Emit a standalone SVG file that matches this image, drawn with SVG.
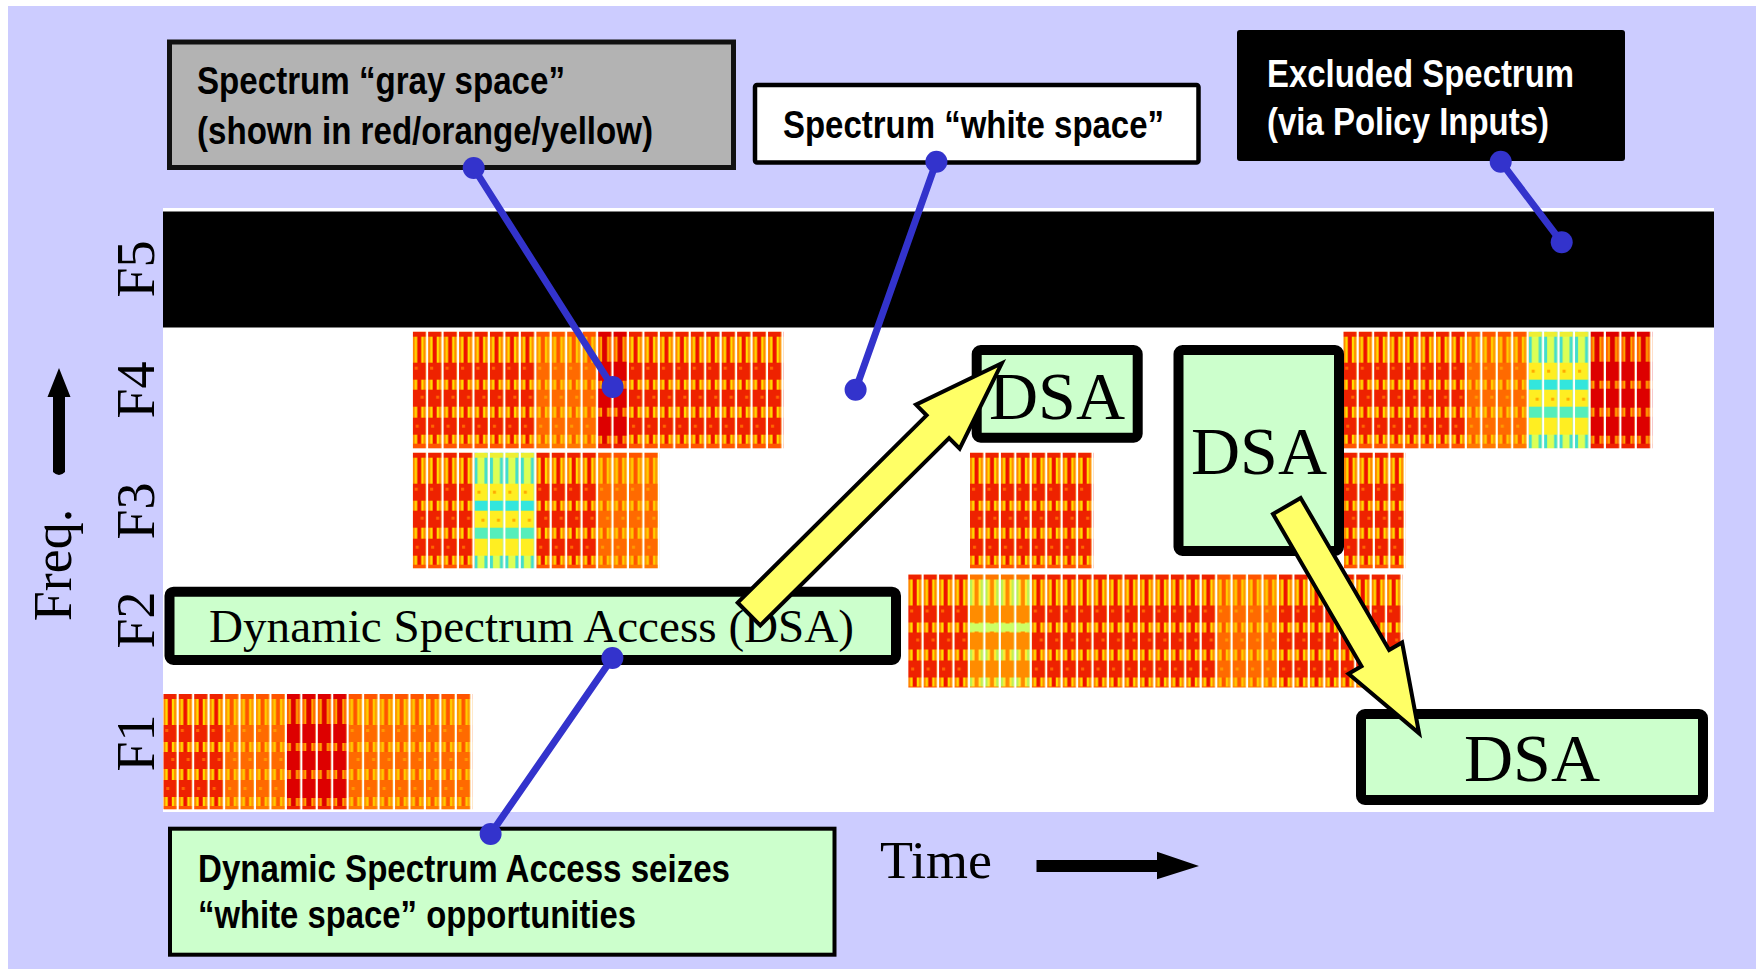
<svg xmlns="http://www.w3.org/2000/svg" width="1756" height="969" viewBox="0 0 1756 969">
<style>
.lbl{font-family:"Liberation Sans Narrow","Liberation Sans",Arial,sans-serif;font-weight:bold;font-size:39px}
.ser{font-family:"Liberation Serif","Times New Roman",serif;fill:#000}
.ax{font-size:54px}
.dsat{font-size:68px;text-anchor:middle}
.lead{stroke:#3333cc;stroke-width:7;stroke-linecap:round;fill:none}
.dot{fill:#3333cc}
.dsa{fill:#ccffcc;stroke:#000;stroke-width:10}
.yarr{fill:#ffff66;stroke:#000;stroke-width:4;stroke-linejoin:miter}
</style>
<defs>
<pattern id="hot" patternUnits="userSpaceOnUse" width="15.45" height="117">
<rect width="13" height="117" fill="#ffdd00"/>
<rect width="2.2" height="117" fill="#ff8800"/>
<rect x="10.8" width="2.2" height="117" fill="#ff8800"/>
<rect x="4.5" width="4" height="117" fill="#ee1100"/>
<rect width="13" height="5" fill="#ee2200"/>
<rect y="31" width="13" height="17" fill="#ee2200"/>
<rect y="58" width="13" height="17" fill="#ee2200"/>
<rect y="86" width="13" height="17" fill="#ee2200"/>
<rect x="2" y="35" width="3" height="3" fill="#ff6600"/>
<rect x="8" y="64" width="3" height="3" fill="#ff6600"/>
<rect x="3" y="93" width="3" height="3" fill="#ff6600"/>
<rect y="112" width="13" height="5" fill="#ff5500"/>
</pattern>
<pattern id="warm" patternUnits="userSpaceOnUse" width="15.45" height="117">
<rect width="13" height="117" fill="#ffcc00"/>
<rect width="2.2" height="117" fill="#ff9900"/>
<rect x="10.8" width="2.2" height="117" fill="#ff9900"/>
<rect x="4.5" width="4" height="117" fill="#ff5500"/>
<rect width="13" height="5" fill="#ff5500"/>
<rect y="31" width="13" height="17" fill="#ff6a00"/>
<rect y="58" width="13" height="17" fill="#ff6a00"/>
<rect y="86" width="13" height="17" fill="#ff6a00"/>
<rect x="2" y="35" width="3" height="3" fill="#ff9900"/>
<rect x="8" y="64" width="3" height="3" fill="#ff9900"/>
<rect x="3" y="93" width="3" height="3" fill="#ff9900"/>
<rect y="112" width="13" height="5" fill="#ff7700"/>
</pattern>
<pattern id="mild" patternUnits="userSpaceOnUse" width="15.45" height="117">
<rect width="13" height="117" fill="#ffee33"/>
<rect width="2.2" height="117" fill="#bbee55"/>
<rect x="10.8" width="2.2" height="117" fill="#bbee55"/>
<rect x="4.5" width="4" height="117" fill="#ff8800"/>
<rect width="13" height="5" fill="#ff7700"/>
<rect y="31" width="13" height="17" fill="#ff8c00"/>
<rect y="58" width="13" height="17" fill="#ff8c00"/>
<rect y="86" width="13" height="17" fill="#ff8c00"/>
<rect y="49" width="13" height="8" fill="#ccff66"/>
<rect y="112" width="13" height="5" fill="#ff8800"/>
</pattern>
<pattern id="dark" patternUnits="userSpaceOnUse" width="15.45" height="117">
<rect width="13" height="117" fill="#ffaa00"/>
<rect width="2.2" height="117" fill="#ff6600"/>
<rect x="10.8" width="2.2" height="117" fill="#ff6600"/>
<rect x="4" width="5" height="117" fill="#dd0000"/>
<rect width="13" height="5" fill="#dd0000"/>
<rect y="30" width="13" height="19" fill="#dd0000"/>
<rect y="57" width="13" height="19" fill="#dd0000"/>
<rect y="85" width="13" height="19" fill="#dd0000"/>
<rect y="112" width="13" height="5" fill="#ee2200"/>
</pattern>
<pattern id="cool" patternUnits="userSpaceOnUse" width="15.45" height="117">
<rect width="13" height="117" fill="#ddff55"/>
<rect width="3" height="117" fill="#44ddcc"/>
<rect x="10" width="3" height="117" fill="#44ddcc"/>
<rect width="13" height="5" fill="#eeee33"/>
<rect y="31" width="13" height="17" fill="#ffee22"/>
<rect y="58" width="13" height="17" fill="#ffee22"/>
<rect y="86" width="13" height="17" fill="#ffee22"/>
<rect y="48" width="13" height="10" fill="#33e6dd"/>
<rect y="75" width="13" height="11" fill="#55eebb"/>
<rect x="3" y="38" width="3" height="3" fill="#ffaa00"/>
<rect x="7" y="66" width="3" height="3" fill="#ffaa00"/>
</pattern>
</defs>

<rect width="1756" height="969" fill="#ffffff"/>
<rect x="8" y="6" width="1748" height="963" fill="#ccccff"/>

<g id="plot">
<rect x="163" y="208" width="1551" height="604" fill="#ffffff"/>
<rect x="163" y="211.5" width="1551" height="116" fill="#000000"/>
</g>

<g id="occupancy">
<g transform="translate(412.7,331.7)">
<rect width="123.6" height="116.6" fill="url(#hot)"/>
<rect x="123.6" width="61.8" height="116.6" fill="url(#warm)"/>
<rect x="185.4" width="30.9" height="116.6" fill="url(#dark)"/>
<rect x="216.3" width="154.5" height="116.6" fill="url(#hot)"/>
</g>
<g transform="translate(1343.3,331.7)">
<rect width="123.6" height="116.6" fill="url(#hot)"/>
<rect x="123.6" width="61.8" height="116.6" fill="url(#warm)"/>
<rect x="185.4" width="61.8" height="116.6" fill="url(#cool)"/>
<rect x="247.2" width="61.8" height="116.6" fill="url(#dark)"/>
</g>
<g transform="translate(412.7,452.7)">
<rect width="61.8" height="115.6" fill="url(#hot)"/>
<rect x="61.8" width="61.8" height="115.6" fill="url(#cool)"/>
<rect x="123.6" width="61.8" height="115.6" fill="url(#hot)"/>
<rect x="185.4" width="61.8" height="115.6" fill="url(#warm)"/>
</g>
<g transform="translate(970,452.7)">
<rect width="123.6" height="115.6" fill="url(#hot)"/>
</g>
<g transform="translate(1344,452.7)">
<rect width="61.8" height="115.6" fill="url(#hot)"/>
</g>
<g transform="translate(908.2,574.5)">
<rect width="61.8" height="113" fill="url(#hot)"/>
<rect x="61.8" width="61.8" height="113" fill="url(#mild)"/>
<rect x="123.6" width="185.4" height="113" fill="url(#hot)"/>
<rect x="309" width="61.8" height="113" fill="url(#warm)"/>
<rect x="370.8" width="123.6" height="113" fill="url(#hot)"/>
</g>
<g transform="translate(163.3,694)">
<rect width="61.8" height="115.3" fill="url(#hot)"/>
<rect x="61.8" width="61.8" height="115.3" fill="url(#warm)"/>
<rect x="123.6" width="61.8" height="115.3" fill="url(#dark)"/>
<rect x="185.4" width="123.6" height="115.3" fill="url(#warm)"/>
</g>
</g>

<g id="axes">
<text class="ser ax" transform="translate(154,269) rotate(-90)" text-anchor="middle">F5</text>
<text class="ser ax" transform="translate(154,390) rotate(-90)" text-anchor="middle">F4</text>
<text class="ser ax" transform="translate(154,511) rotate(-90)" text-anchor="middle">F3</text>
<text class="ser ax" transform="translate(154,620) rotate(-90)" text-anchor="middle">F2</text>
<text class="ser ax" transform="translate(154,743) rotate(-90)" text-anchor="middle">F1</text>
<text class="ser ax" transform="translate(70.7,565) rotate(-90)" text-anchor="middle">Freq.</text>
<path d="M53,472 L53,397 L47.5,397 L59,368 L70.5,397 L65,397 L65,472 Q59,478 53,472 Z" fill="#000"/>
<text class="ser" x="880" y="878" font-size="52" textLength="112" lengthAdjust="spacingAndGlyphs">Time</text>
<path d="M1036.5,860 L1157,860 L1157,851.7 L1199,866 L1157,879.3 L1157,872 L1036.5,872 Z" fill="#000"/>
</g>

<g id="dsa-label">
<rect x="169.5" y="591.7" width="726.5" height="68.3" rx="4" class="dsa"/>
<text class="ser" x="209" y="642" font-size="47" textLength="645" lengthAdjust="spacingAndGlyphs">Dynamic Spectrum Access (DSA)</text>
</g>
<g id="dsa1">
<rect x="976.7" y="350" width="161" height="87.7" rx="4" class="dsa"/>
<text class="ser dsat" x="1057" y="419">DSA</text>
</g>
<g id="dsa2">
<rect x="1178.5" y="350" width="160.5" height="201" rx="4" class="dsa"/>
<text class="ser dsat" x="1259" y="474">DSA</text>
</g>
<g id="dsa3">
<rect x="1361" y="714" width="342" height="86" rx="4" class="dsa"/>
<text class="ser dsat" x="1532" y="781">DSA</text>
</g>

<g id="transitions">
<polygon class="yarr" transform="translate(749,614) rotate(-44.77)" points="0,-16 266,-16 266,-31 356,0 266,31 266,16 0,16"/>
<polygon class="yarr" transform="translate(1286.8,506) rotate(59.8)" points="0,-16 176,-16 176,-31 263,0 176,31 176,16 0,16"/>
</g>

<g id="gray-callout">
<rect x="169.5" y="42" width="564" height="125.5" fill="#b3b3b3" stroke="#111" stroke-width="5"/>
<text class="lbl" x="197" y="94" textLength="368" lengthAdjust="spacingAndGlyphs">Spectrum “gray space”</text>
<text class="lbl" x="197" y="144" textLength="456" lengthAdjust="spacingAndGlyphs">(shown in red/orange/yellow)</text>
</g>
<g id="white-callout">
<rect x="755" y="85" width="443.5" height="77.5" rx="2" fill="#ffffff" stroke="#000" stroke-width="4.5"/>
<text class="lbl" x="783" y="138" textLength="381" lengthAdjust="spacingAndGlyphs">Spectrum “white space”</text>
</g>
<g id="excluded-callout">
<rect x="1237" y="30" width="388" height="131" rx="3" fill="#000000"/>
<text class="lbl" x="1267" y="87" fill="#ffffff" textLength="307" lengthAdjust="spacingAndGlyphs">Excluded Spectrum</text>
<text class="lbl" x="1267" y="135" fill="#ffffff" textLength="282" lengthAdjust="spacingAndGlyphs">(via Policy Inputs)</text>
</g>
<g id="dsa-callout">
<rect x="170" y="828.7" width="664.5" height="126" fill="#ccffcc" stroke="#000" stroke-width="4"/>
<text class="lbl" x="198" y="882" textLength="532" lengthAdjust="spacingAndGlyphs">Dynamic Spectrum Access seizes</text>
<text class="lbl" x="198" y="928" textLength="438" lengthAdjust="spacingAndGlyphs">“white space” opportunities</text>
</g>

<g id="connectors">
<line class="lead" x1="473.7" y1="168" x2="612.6" y2="387"/>
<circle class="dot" cx="473.7" cy="168" r="11"/>
<circle class="dot" cx="612.6" cy="387" r="11"/>
<line class="lead" x1="936.4" y1="161.7" x2="855.6" y2="389.7"/>
<circle class="dot" cx="936.4" cy="161.7" r="11"/>
<circle class="dot" cx="855.6" cy="389.7" r="11"/>
<line class="lead" x1="1500.7" y1="161.7" x2="1561.7" y2="242.3"/>
<circle class="dot" cx="1500.7" cy="161.7" r="11"/>
<circle class="dot" cx="1561.7" cy="242.3" r="11"/>
<line class="lead" x1="612.4" y1="658" x2="490.6" y2="834"/>
<circle class="dot" cx="612.4" cy="658" r="11"/>
<circle class="dot" cx="490.6" cy="834" r="11"/>
</g>
</svg>
